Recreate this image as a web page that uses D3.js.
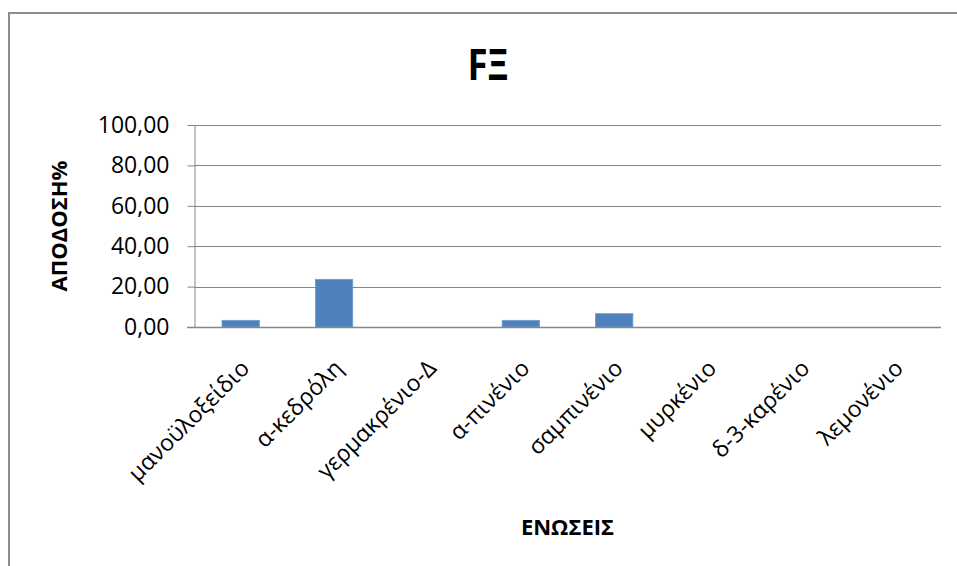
<!DOCTYPE html>
<html>
<head>
<meta charset="utf-8">
<script src="https://cdn.jsdelivr.net/npm/d3@7"></script>
<style>
  html, body { margin: 0; padding: 0; background: #fff; }
  svg { display: block; }
  text { font-family: "Open Sans", "Noto Sans", sans-serif; fill: #000; }
</style>
</head>
<body>
<svg id="chart" width="957" height="566"></svg>
<script>
// Compounds and their yield (%)
const categories = ["μανοϋλοξείδιο", "α-κεδρόλη", "γερμακρένιο-Δ", "α-πινένιο", "σαμπινένιο", "μυρκένιο", "δ-3-καρένιο", "λεμονένιο"];
const yields = [3.3, 23.6, 0, 3.3, 6.6, 0, 0, 0];
const yTicks = [0, 20, 40, 60, 80, 100];
const chartTitle = "FΞ";
const yTitle = "ΑΠΟΔΟΣΗ%";
const xTitle = "ΕΝΩΣΕΙΣ";

const svg = d3.select("#chart");
const W = 957, H = 566;
const plot = { left: 194, right: 941, top: 125, bottom: 327 };

// chart frame
svg.append("rect")
  .attr("x", 9).attr("y", 13)
  .attr("width", W).attr("height", H)
  .attr("fill", "#fff")
  .attr("stroke", "#8c8c8c").attr("stroke-width", 2);

const x = d3.scaleBand()
  .domain(categories)
  .range([plot.left, plot.right])
  .paddingInner(0.6).paddingOuter(0.3);

const y = d3.scaleLinear()
  .domain([0, 100])
  .range([plot.bottom, plot.top]);

const fmt = v => d3.format(".2f")(v).replace(".", ",");

// horizontal gridlines
svg.append("g")
  .selectAll("line")
  .data(yTicks.filter(d => d > 0))
  .join("line")
  .attr("x1", plot.left).attr("x2", plot.right)
  .attr("y1", d => Math.round(y(d)) + 0.5).attr("y2", d => Math.round(y(d)) + 0.5)
  .attr("stroke", "#868686").attr("stroke-width", 1);

// y axis
const yAxis = svg.append("g")
  .attr("transform", `translate(${plot.left + 0.5},0)`)
  .call(d3.axisLeft(y).tickValues(yTicks).tickFormat(fmt).tickSize(7).tickSizeOuter(0).tickPadding(18));
yAxis.select(".domain").attr("stroke", "#868686");
yAxis.selectAll(".tick line").attr("stroke", "#868686");
yAxis.selectAll(".tick text")
  .attr("font-size", 23)
  .attr("fill", "#262626")
  .style("font-family", "'Open Sans', sans-serif");

// bars
svg.append("g")
  .selectAll("rect")
  .data(categories.map((c, i) => ({ c, v: yields[i] })))
  .join("rect")
  .attr("x", d => x(d.c))
  .attr("width", x.bandwidth())
  .attr("y", d => y(d.v))
  .attr("height", d => y(0) - y(d.v))
  .attr("fill", "#4f81bd")
  .attr("stroke", "#6f9bd1")
  .attr("stroke-width", 0.8);

// x axis
const xAxis = svg.append("g")
  .attr("transform", `translate(0,${Math.round(plot.bottom) + 0.5})`)
  .call(d3.axisBottom(x).tickSize(0).tickSizeOuter(0));
xAxis.select(".domain").attr("stroke", "#868686").attr("stroke-width", 1.5)
  .attr("d", `M${plot.left - 7},0H${plot.right}`);
xAxis.selectAll(".tick text")
  .attr("font-size", 23)
  .attr("text-anchor", "end")
  .attr("dy", 0)
  .attr("transform", "translate(8,40) rotate(-45)")
  .attr("fill", "#000")
  .style("font-family", "'Open Sans', sans-serif");

// titles
svg.append("text")
  .attr("x", 488).attr("y", 80)
  .attr("text-anchor", "middle")
  .attr("font-size", 43).attr("font-weight", "bold")
  .attr("textLength", 41).attr("lengthAdjust", "spacingAndGlyphs")
  .text(chartTitle);

svg.append("text")
  .attr("transform", `translate(67,${(plot.top + plot.bottom) / 2}) rotate(-90)`)
  .attr("text-anchor", "middle")
  .attr("font-size", 22).attr("font-weight", "bold")
  .text(yTitle);

svg.append("text")
  .attr("x", (plot.left + plot.right) / 2).attr("y", 535)
  .attr("text-anchor", "middle")
  .attr("font-size", 22).attr("font-weight", "bold")
  .text(xTitle);
</script>
</body>
</html>
